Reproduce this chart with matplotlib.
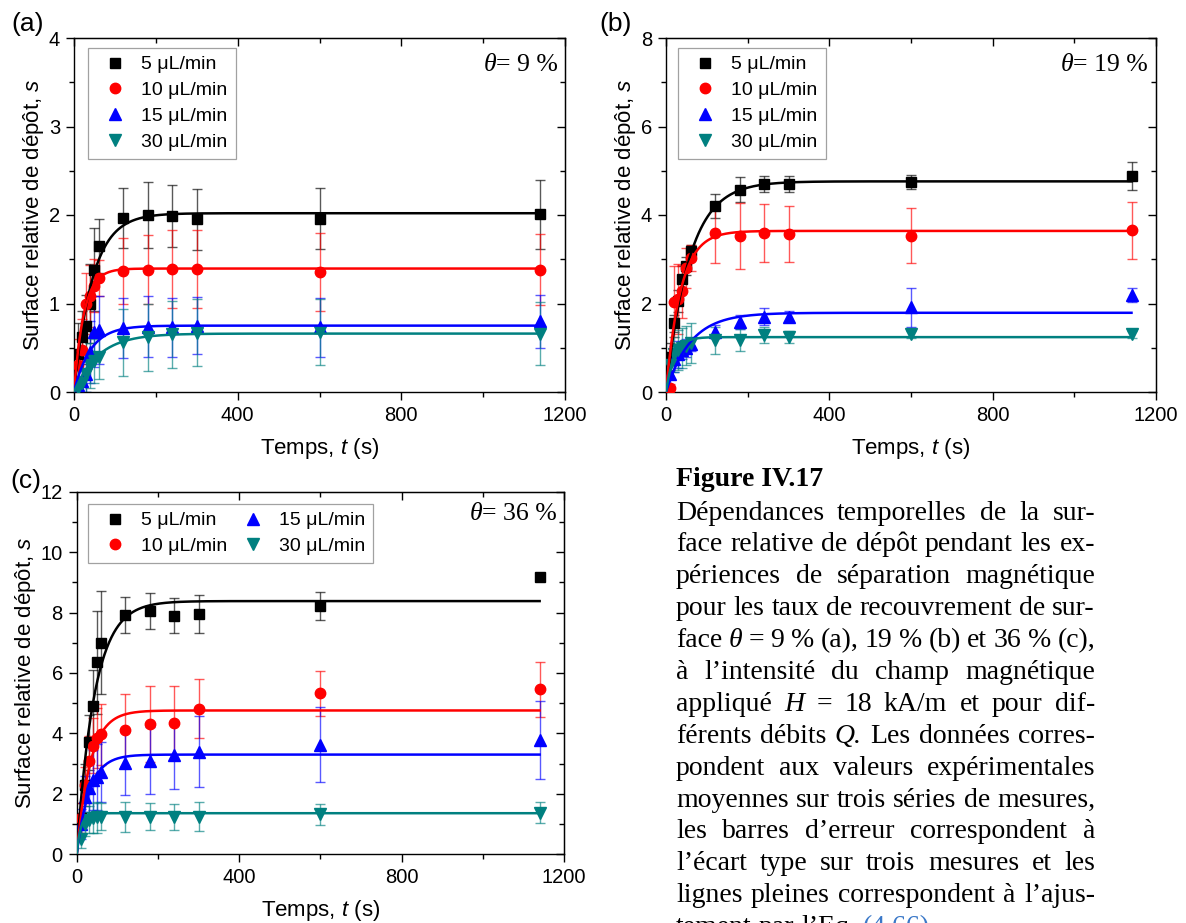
import numpy as np
import matplotlib
matplotlib.use('Agg')
import matplotlib.pyplot as plt
from matplotlib.ticker import MultipleLocator, NullFormatter

plt.rcParams['font.family'] = ['Liberation Sans', 'DejaVu Sans']
plt.rcParams['mathtext.fontset'] = 'custom'
plt.rcParams['mathtext.rm'] = 'Liberation Sans'
plt.rcParams['mathtext.it'] = 'Liberation Sans:italic'

# ---------------- data ----------------
times = [10, 20, 30, 40, 50, 60, 120, 180, 240, 300, 600, 1140]
flow_labels = ['5 μL/min', '10 μL/min', '15 μL/min', '30 μL/min']

# panel (a)  theta = 9 %
a_5 = [0.43, 0.62, 0.75, 1.00, 1.38, 1.65, 1.97, 2.00, 1.99, 1.95, 1.96, 2.01]
a_10 = [0.30, 0.48, 1.00, 1.08, 1.20, 1.29, 1.37, 1.38, 1.39, 1.39, 1.36, 1.38]
a_15 = [0.08, 0.12, 0.20, 0.45, 0.68, 0.70, 0.72, 0.74, 0.73, 0.75, 0.73, 0.80]
a_30 = [0.05, 0.10, 0.20, 0.30, 0.35, 0.40, 0.56, 0.62, 0.65, 0.67, 0.68, 0.66]
a_5_err = [0.35, 0.30, 0.35, 0.45, 0.47, 0.30, 0.34, 0.37, 0.35, 0.34, 0.34, 0.39]
a_10_err = [0.30, 0.35, 0.35, 0.35, 0.30, 0.20, 0.37, 0.39, 0.44, 0.44, 0.44, 0.40]
a_15_err = [0.10, 0.15, 0.20, 0.35, 0.40, 0.38, 0.34, 0.35, 0.33, 0.32, 0.33, 0.30]
a_30_err = [0.10, 0.15, 0.20, 0.25, 0.25, 0.25, 0.38, 0.38, 0.38, 0.38, 0.37, 0.36]
a_fit_sinf = [2.02, 1.395, 0.75, 0.66]
a_fit_tau = [45, 24, 40, 60]

# panel (b)  theta = 19 %
b_5 = [0.80, 1.55, 2.05, 2.55, 2.85, 3.18, 4.20, 4.57, 4.70, 4.70, 4.75, 4.88]
b_10 = [0.08, 2.04, 2.10, 2.28, 2.80, 3.03, 3.59, 3.53, 3.59, 3.57, 3.53, 3.65]
b_15 = [0.40, 0.75, 0.85, 0.95, 1.00, 1.08, 1.36, 1.58, 1.70, 1.70, 1.92, 2.19]
b_30 = [0.60, 0.85, 0.95, 1.00, 1.05, 1.10, 1.17, 1.17, 1.28, 1.24, 1.30, 1.30]
b_5_err = [0.30, 0.20, 0.25, 0.30, 0.20, 0.15, 0.27, 0.28, 0.18, 0.18, 0.16, 0.31]
b_10_err = [0.10, 0.80, 0.80, 0.60, 0.45, 0.30, 0.68, 0.75, 0.66, 0.63, 0.62, 0.64]
b_15_err = [0.30, 0.30, 0.30, 0.20, 0.20, 0.15, 0.15, 0.15, 0.19, 0.12, 0.44, 0.15]
b_30_err = [0.30, 0.40, 0.45, 0.45, 0.45, 0.45, 0.30, 0.25, 0.18, 0.13, 0.08, 0.08]
b_fit_sinf = [4.76, 3.64, 1.79, 1.24]
b_fit_tau = [57, 36, 60, 20]

# panel (c)  theta = 36 %
c_5 = [1.20, 2.30, 3.70, 4.90, 6.35, 7.00, 7.92, 8.05, 7.90, 7.95, 8.22, 9.19]
c_10 = [1.20, 2.29, 3.10, 3.60, 3.85, 3.97, 4.11, 4.31, 4.36, 4.82, 5.33, 5.46]
c_15 = [1.00, 1.90, 2.20, 2.45, 2.56, 2.73, 3.01, 3.10, 3.27, 3.40, 3.62, 3.78]
c_30 = [0.50, 1.00, 1.15, 1.20, 1.22, 1.25, 1.24, 1.24, 1.24, 1.24, 1.32, 1.38]
c_5_err = [0.50, 0.70, 0.90, 1.20, 1.70, 1.70, 0.61, 0.61, 0.57, 0.63, 0.47, 0.00]
c_10_err = [0.50, 0.60, 0.80, 0.90, 1.00, 1.00, 1.19, 1.27, 1.21, 0.97, 0.75, 0.91]
c_15_err = [0.50, 0.70, 0.80, 1.00, 1.10, 1.00, 1.05, 1.12, 1.12, 1.18, 1.24, 1.30]
c_30_err = [0.30, 0.40, 0.45, 0.50, 0.50, 0.45, 0.50, 0.45, 0.44, 0.48, 0.36, 0.36]
c_fit_sinf = [8.38, 4.76, 3.30, 1.36]
c_fit_tau = [44, 33, 31, 10]

caption_title = 'Figure IV.17'
caption_lines = [
    'Dépendances temporelles de la sur-',
    'face relative de dépôt pendant les ex-',
    'périences de séparation magnétique',
    'pour les taux de recouvrement de sur-',
    'face §θ = 9 % (a), 19 % (b) et 36 % (c),',
    'à l’intensité du champ magnétique',
    'appliqué §H = 18 kA/m et pour dif-',
    'férents débits §Q. Les données corres-',
    'pondent aux valeurs expérimentales',
    'moyennes sur trois séries de mesures,',
    'les barres d’erreur correspondent à',
    'l’écart type sur trois mesures et les',
    'lignes pleines correspondent à l’ajus-',
    'tement par l’Eq. (4.66).',
]

# ---------------- style ----------------
colors = ['#000000', '#ff0000', '#0000ff', '#008080']
markers = ['s', 'o', '^', 'v']
msizes = [7, 7.5, 8, 8]

W, H = 1186, 923
fig = plt.figure(figsize=(W / 100, H / 100), dpi=100)


def px_rect(l, t, r, b):
    return [l / W, 1 - b / H, (r - l) / W, (b - t) / H]


def panel(rect, vals, errs, sinf, tau, ymax, ymaj, theta_txt, letter, letter_px,
          theta_px, leg_anchor, ncol):
    ax = fig.add_axes(px_rect(*rect))
    for i in range(4):
        ax.errorbar(times, vals[i], yerr=errs[i], fmt='none', ecolor=colors[i],
                    elinewidth=1.0, capsize=3.5, capthick=1.0, alpha=0.65, zorder=2)
    for i in range(4):
        ax.plot(times, vals[i], linestyle='none', marker=markers[i], color=colors[i],
                ms=msizes[i], label=flow_labels[i], zorder=3)
    tt = np.linspace(0, times[-1], 800)
    for i in range(4):
        ax.plot(tt, sinf[i] * (1 - np.exp(-tt / tau[i])), color=colors[i], lw=1.8, zorder=4)
    ax.set_xlim(0, 1200)
    ax.set_ylim(0, ymax)
    ax.xaxis.set_major_locator(MultipleLocator(400))
    ax.xaxis.set_minor_locator(MultipleLocator(200))
    ax.yaxis.set_major_locator(MultipleLocator(ymaj))
    ax.yaxis.set_minor_locator(MultipleLocator(ymaj / 2))
    ax.tick_params(which='both', direction='out', top=False, right=False,
                   labelsize=14.5, width=1.0, pad=4)
    ax.tick_params(which='major', length=6)
    ax.tick_params(which='minor', length=3.5)
    for sp in ax.spines.values():
        sp.set_linewidth(1.0)
    sx = ax.secondary_xaxis('top')
    sx.xaxis.set_major_locator(MultipleLocator(400))
    sx.xaxis.set_minor_locator(MultipleLocator(200))
    sx.xaxis.set_major_formatter(NullFormatter())
    sx.tick_params(which='both', direction='in', width=1.0)
    sx.tick_params(which='major', length=6)
    sx.tick_params(which='minor', length=3.5)
    sy = ax.secondary_yaxis('right')
    sy.yaxis.set_major_locator(MultipleLocator(ymaj))
    sy.yaxis.set_minor_locator(MultipleLocator(ymaj / 2))
    sy.yaxis.set_major_formatter(NullFormatter())
    sy.tick_params(which='both', direction='in', width=1.0)
    sy.tick_params(which='major', length=6)
    sy.tick_params(which='minor', length=3.5)

    ax.set_xlabel('Temps, $t$ (s)', fontsize=16, labelpad=8)
    ax.set_ylabel('Surface relative de dépôt, $s$', fontsize=16, labelpad=2)

    leg = ax.legend(loc='upper left', bbox_to_anchor=leg_anchor, borderaxespad=0,
                    ncol=ncol, fontsize=14, frameon=True, fancybox=False,
                    edgecolor='#8a8a8a', handlelength=2.0, handletextpad=0.35,
                    labelspacing=0.42, borderpad=0.4, columnspacing=0.3)
    leg.get_frame().set_linewidth(0.9)

    fig.text(letter_px[0] / W, 1 - letter_px[1] / H, letter, fontsize=19,
             ha='left', va='baseline')
    # theta annotation (italic theta + upright rest)
    t2 = fig.text(theta_px[0] / W, 1 - theta_px[1] / H, '= ' + theta_txt,
                  fontfamily='Liberation Serif', fontsize=18.5, ha='right', va='baseline')
    ax.annotate('θ', xy=(0, 0), xycoords=t2, xytext=(0, 0), textcoords='offset points',
                fontfamily='Liberation Serif', style='italic', fontsize=18.5,
                ha='right', va='bottom')
    return ax


panel((74, 38, 565, 392), [a_5, a_10, a_15, a_30],
      [a_5_err, a_10_err, a_15_err, a_30_err], a_fit_sinf, a_fit_tau,
      4, 1, '9 %', '(a)', (11, 31), (558, 71), ((88 - 74) / 491, 1 - 10 / 354), 1)
panel((666, 38, 1156, 392), [b_5, b_10, b_15, b_30],
      [b_5_err, b_10_err, b_15_err, b_30_err], b_fit_sinf, b_fit_tau,
      8, 2, '19 %', '(b)', (599, 31), (1148, 71), ((678 - 666) / 490, 1 - 10 / 354), 1)
panel((76.7, 491.7, 564, 854.3), [c_5, c_10, c_15, c_30],
      [c_5_err, c_10_err, c_15_err, c_30_err], c_fit_sinf, c_fit_tau,
      12, 2, '36 %', '(c)', (10, 488), (557, 520), ((88 - 76.7) / 487.3, 1 - 12.3 / 362.6), 2)

# ---------------- caption (justified) ----------------
renderer = fig.canvas.get_renderer()
cap_left, cap_right = 676, 1095
cap_font = 'Liberation Serif'


def build_line(words_spec, y, fs):
    objs = []
    for w in words_spec:
        ital = w.startswith('§')
        w2 = w.lstrip('§')
        col = '#3a78c8' if w2.startswith('(4.') else '#000000'
        t = fig.text(0, 1 - y / H, w2, fontfamily=cap_font, fontsize=fs,
                     style='italic' if ital else 'normal', ha='left', va='baseline',
                     color=col)
        objs.append(t)
    widths = [t.get_window_extent(renderer).width for t in objs]
    return objs, widths


def space_width(fs):
    pa = fig.text(0, 0, 'aa', fontfamily=cap_font, fontsize=fs)
    pb = fig.text(0, 0, 'a a', fontfamily=cap_font, fontsize=fs)
    sw = pb.get_window_extent(renderer).width - pa.get_window_extent(renderer).width
    pa.remove()
    pb.remove()
    return sw


# choose the largest size (<= 20 pt) where every justified line fits
cap_fs = 20.0
ref_fs = 20.0
sw_ref = space_width(ref_fs)
worst = 0
for line in caption_lines[:-1]:
    objs, widths = build_line(line.split(' '), 0, ref_fs)
    need = sum(widths) + (len(objs) - 1) * sw_ref * 0.85
    worst = max(worst, need / (cap_right - cap_left))
    for t in objs:
        t.remove()
if worst > 1:
    cap_fs = ref_fs / worst
space_w = space_width(cap_fs)

fig.text(cap_left / W, 1 - 486 / H, caption_title, fontfamily=cap_font,
         fontweight='bold', fontsize=cap_fs, ha='left', va='baseline')

base0 = 519.5
step = 31.9
for li, line in enumerate(caption_lines):
    y = base0 + li * step
    objs, widths = build_line(line.split(' '), y, cap_fs)
    last = (li == len(caption_lines) - 1)
    if last or len(objs) == 1:
        gap = space_w
    else:
        gap = (cap_right - cap_left - sum(widths)) / (len(objs) - 1)
    x = cap_left
    for t, wd in zip(objs, widths):
        t.set_x(x / W)
        x += wd + gap

fig.savefig('out.png', dpi=100)
